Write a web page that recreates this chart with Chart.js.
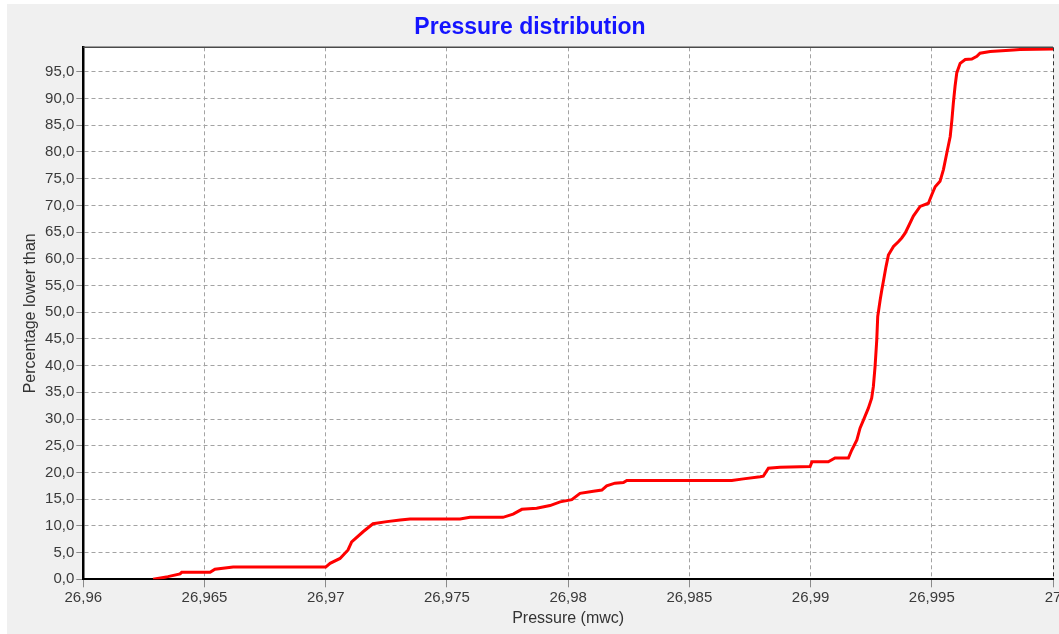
<!DOCTYPE html>
<html>
<head>
<meta charset="utf-8">
<title>Pressure distribution</title>
<script src="https://cdn.jsdelivr.net/npm/chart.js@4.4.1/dist/chart.umd.min.js"></script>
<style>
  html, body { margin: 0; padding: 0; background: #ffffff; }
  canvas { display: block; }
</style>
</head>
<body>
<canvas id="chart" width="1059" height="634"></canvas>
<script>
// Cumulative pressure distribution: pressure (mwc) vs. percentage of samples below it
const pressure = [
  26.96288, 26.96337, 26.96349, 26.96399, 26.96406, 26.96523, 26.96543, 26.96618,
  26.97000, 26.97018, 26.97059, 26.97092, 26.97107, 26.97154, 26.97195, 26.97252,
  26.97307, 26.97348, 26.97554, 26.97595, 26.97731, 26.97773, 26.97809, 26.97870,
  26.97925, 26.97967, 26.98015, 26.98049, 26.98104, 26.98139, 26.98159, 26.98193,
  26.98228, 26.98242, 26.98675, 26.98723, 26.98792, 26.98805, 26.98826, 26.98874,
  26.98998, 26.99006, 26.99073, 26.99101, 26.99156, 26.99170, 26.99191, 26.99204,
  26.99218, 26.99238, 26.99252, 26.99259, 26.99266, 26.99273, 26.99277, 26.99287,
  26.99294, 26.99300, 26.99311, 26.99321, 26.99342, 26.99362, 26.99376, 26.99390,
  26.99403, 26.99424, 26.99452, 26.99486, 26.99500, 26.99514, 26.99534, 26.99548,
  26.99562, 26.99576, 26.99583, 26.99589, 26.99596, 26.99603, 26.99617, 26.99638,
  26.99665, 26.99686, 26.99699, 26.99741, 26.99837, 26.99864, 27.00000
];
const percentLower = [
  0.0, 0.4, 0.5, 1.0, 1.3, 1.3, 1.9, 2.3,
  2.3, 3.0, 3.9, 5.5, 7.0, 8.9, 10.4, 10.8,
  11.1, 11.3, 11.3, 11.6, 11.6, 12.2, 13.1, 13.3,
  13.8, 14.5, 14.9, 16.1, 16.5, 16.7, 17.5, 18.0,
  18.1, 18.5, 18.5, 18.8, 19.2, 19.3, 20.8, 21.0,
  21.1, 22.0, 22.0, 22.7, 22.7, 24.2, 26.1, 28.3,
  29.8, 32.0, 33.9, 36.1, 39.8, 44.8, 49.2, 52.3,
  54.2, 55.7, 58.5, 60.7, 62.3, 63.2, 63.9, 64.8,
  66.0, 68.0, 69.8, 70.4, 72.0, 73.5, 74.5, 76.7,
  79.8, 82.9, 86.0, 89.2, 92.3, 94.8, 96.6, 97.3,
  97.4, 97.9, 98.5, 98.8, 99.1, 99.2, 99.3
];

// Axis ticks
const xTicks = [26.96, 26.965, 26.97, 26.975, 26.98, 26.985, 26.99, 26.995, 27];
const yTicks = [0, 5, 10, 15, 20, 25, 30, 35, 40, 45, 50, 55, 60, 65, 70, 75, 80, 85, 90, 95];

const FONT = "'Liberation Sans', Arial, sans-serif";
const GRID = '#a3a3a3';

const points = pressure.map((p, i) => ({ x: p, y: percentLower[i] }));

// Panel background, white plot area and the solid top frame line
const panelPlugin = {
  id: 'panel',
  beforeDraw(chart) {
    const { ctx, chartArea: a, width, height } = chart;
    ctx.save();
    ctx.fillStyle = '#ffffff';
    ctx.fillRect(0, 0, width, height);
    ctx.fillStyle = '#f0f0f0';
    ctx.fillRect(7, 4, width - 7, height - 4);
    ctx.fillStyle = '#ffffff';
    ctx.fillRect(a.left, a.top, a.right - a.left, a.bottom - a.top);
    ctx.restore();
  },
  afterDatasetsDraw(chart) {
    const { ctx, chartArea: a } = chart;
    ctx.save();
    ctx.strokeStyle = '#4a4a4a';
    ctx.lineWidth = 1.5;
    ctx.beginPath();
    ctx.moveTo(a.left, a.top);
    ctx.lineTo(a.right, a.top);
    ctx.stroke();
    ctx.restore();
  }
};

new Chart(document.getElementById('chart'), {
  type: 'line',
  data: {
    datasets: [{
      data: points,
      borderColor: '#ff0000',
      borderWidth: 3,
      pointRadius: 0,
      tension: 0,
      fill: false
    }]
  },
  plugins: [panelPlugin],
  options: {
    responsive: false,
    animation: false,
    events: [],
    layout: { padding: { left: 7, top: 4, right: 6, bottom: 0 }, autoPadding: false },
    plugins: {
      legend: { display: false },
      tooltip: { enabled: false },
      title: {
        display: true,
        text: 'Pressure distribution',
        color: '#1414ff',
        font: { family: FONT, size: 23, weight: 'bold' },
        padding: { top: 10, bottom: 5.7 }
      }
    },
    scales: {
      x: {
        type: 'linear',
        min: 26.96,
        max: 27,
        afterBuildTicks(scale) { scale.ticks = xTicks.map(v => ({ value: v })); },
        afterFit(scale) {
          scale.height = 54.7;
          scale.paddingLeft = 0;
          scale.paddingRight = 0;
        },
        ticks: {
          color: '#3a3a3a',
          font: { family: FONT, size: 15 },
          padding: 2,
          maxRotation: 0,
          autoSkip: false,
          callback: v => String(+v.toFixed(3)).replace('.', ',')
        },
        grid: {
          color: ctx => (ctx.tick && ctx.tick.value === 27 ? '#333333' : GRID),
          lineWidth: 1,
          tickLength: 8,
          tickColor: '#8a8a8a',
          tickBorderDash: []
        },
        border: { display: true, color: '#000000', width: 2, dash: [4, 3] },
        title: {
          display: true,
          text: 'Pressure (mwc)',
          color: '#333333',
          font: { family: FONT, size: 16 },
          padding: { top: 0, bottom: 5.4 }
        }
      },
      y: {
        type: 'linear',
        min: 0,
        max: 99.6,
        afterBuildTicks(scale) { scale.ticks = yTicks.map(v => ({ value: v })); },
        afterFit(scale) {
          scale.width = 76.3;
          scale.paddingTop = 0;
          scale.paddingBottom = 0;
        },
        ticks: {
          color: '#3a3a3a',
          font: { family: FONT, size: 15 },
          padding: 2,
          autoSkip: false,
          callback: v => v.toFixed(1).replace('.', ',')
        },
        grid: {
          color: GRID,
          lineWidth: 1,
          tickLength: 7,
          tickColor: '#8a8a8a',
          tickBorderDash: []
        },
        border: { display: true, color: '#000000', width: 2.5, dash: [4, 3] },
        title: {
          display: true,
          text: 'Percentage lower than',
          color: '#333333',
          font: { family: FONT, size: 16 },
          padding: { top: 14.2, bottom: 0 }
        }
      }
    }
  }
});
</script>
</body>
</html>
